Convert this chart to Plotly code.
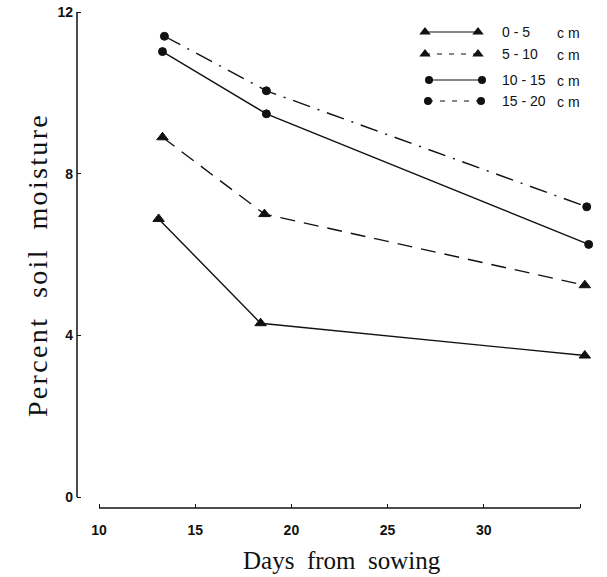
import plotly.graph_objects as go

# ---- data ----
series_names = ["0-5", "5-10", "10-15", "15-20"]
x_05 = [13.1, 18.4, 35.25]
y_05 = [6.88, 4.3, 3.5]
x_510 = [13.3, 18.6, 35.25]
y_510 = [8.9, 7.0, 5.24]
x_1015 = [13.3, 18.7, 35.45]
y_1015 = [11.02, 9.48, 6.25]
x_1520 = [13.4, 18.7, 35.35]
y_1520 = [11.4, 10.05, 7.18]

x_ticks = [10, 15, 20, 25, 30, 35]
x_tick_labels = ["10", "15", "20", "25", "30", ""]
y_ticks = [0, 4, 8, 12]
y_tick_labels = ["0", "4", "8", "12"]

# ---- styles ----
BLACK = "#111111"
styles = [
    dict(dash="solid", symbol="triangle-up", size=10),
    dict(dash="15px,9px", symbol="triangle-up", size=10),
    dict(dash="solid", symbol="circle", size=8),
    dict(dash="18px,8px,2px,8px", symbol="circle", size=8),
]
data = [(x_05, y_05), (x_510, y_510), (x_1015, y_1015), (x_1520, y_1520)]

fig = go.Figure()
for (xs, ys), st in zip(data, styles):
    fig.add_trace(go.Scatter(
        x=xs, y=ys, mode="lines+markers", showlegend=False,
        line=dict(color=BLACK, width=1.4, dash=st["dash"]),
        marker=dict(symbol=st["symbol"], size=st["size"], color=BLACK,
                    line=dict(color=BLACK, width=1)),
    ))

# ---- custom legend drawn on an overlay axis in pixel-like units ----
L = 77
R = 595
T = 5
B = 508
leg_rows_y = [32, 54, 80, 101]
leg_x0 = [425, 425, 429, 428]
leg_x1 = [478, 478, 482, 481]
leg_dash = ["solid", "5px,7px", "solid", "5px,7px"]
for i, st in enumerate(styles):
    fig.add_trace(go.Scatter(
        x=[leg_x0[i], leg_x1[i]], y=[leg_rows_y[i], leg_rows_y[i]],
        xaxis="x2", yaxis="y2", mode="lines+markers", showlegend=False,
        hoverinfo="skip",
        line=dict(color=BLACK, width=1.2, dash=leg_dash[i]),
        marker=dict(symbol=st["symbol"], size=st["size"], color=BLACK),
    ))

annotations = []
for i, name in enumerate(series_names):
    annotations.append(dict(x=500, y=leg_rows_y[i], xref="x2", yref="y2",
                            text=name.replace("-", " - "), showarrow=False, xanchor="left",
                            yanchor="middle",
                            font=dict(family="Liberation Sans", size=14, color=BLACK)))
    annotations.append(dict(x=555, y=leg_rows_y[i] + 1, xref="x2", yref="y2",
                            text="c m", showarrow=False, xanchor="left",
                            yanchor="middle",
                            font=dict(family="Liberation Sans", size=14, color=BLACK)))

# axis titles
HS = "\u200a"
y_title = HS.join("Percent  soil  moisture")
annotations.append(dict(x=0.512, y=0, xref="paper", yref="paper", yshift=-52,
                        text="Days  from  sowing", showarrow=False,
                        xanchor="center", yanchor="middle",
                        font=dict(family="Liberation Serif", size=25, color=BLACK)))
annotations.append(dict(x=0, y=0.481, xref="paper", yref="paper", xshift=-40,
                        text=y_title, showarrow=False, textangle=-90,
                        xanchor="center", yanchor="middle",
                        font=dict(family="Liberation Serif", size=28, color=BLACK)))

# detached axis lines
shapes = [
    dict(type="line", xref="paper", yref="y", x0=0, x1=0, y0=0, y1=12,
         line=dict(color=BLACK, width=1.5)),
    dict(type="line", xref="x", yref="paper", x0=10, x1=35, y0=0, y1=0,
         line=dict(color=BLACK, width=1.5)),
]

px_per_x = (580 - 99) / 25.0
px_per_y = (497 - 12) / 12.0
x_min = 10 - (99 - L) / px_per_x
x_max = 35 + (R - 580) / px_per_x
y_min = 0 - (B - 497) / px_per_y
y_max = 12 + (12 - T) / px_per_y

fig.update_layout(
    width=607, height=577,
    margin=dict(l=L, r=607 - R, t=T, b=577 - B),
    paper_bgcolor="white", plot_bgcolor="white",
    showlegend=False,
    xaxis=dict(range=[x_min, x_max], tickvals=x_ticks, ticktext=x_tick_labels,
               ticks="inside", ticklen=4, tickcolor=BLACK, tickwidth=1.2,
               showgrid=False, zeroline=False, showline=False, automargin=False,
               ticklabelstandoff=12,
               tickfont=dict(family="Liberation Sans", size=14, color=BLACK, weight="bold")),
    yaxis=dict(range=[y_min, y_max], tickvals=y_ticks, ticktext=y_tick_labels,
               ticks="inside", ticklen=4, tickcolor=BLACK, tickwidth=1.2,
               showgrid=False, zeroline=False, showline=False, automargin=False,
               ticklabelstandoff=3,
               tickfont=dict(family="Liberation Sans", size=14, color=BLACK, weight="bold")),
    xaxis2=dict(range=[L, R], overlaying="x", visible=False, domain=[0, 1], anchor="y2"),
    yaxis2=dict(range=[B, T], overlaying="y", visible=False, domain=[0, 1], anchor="x2"),
    annotations=annotations,
    shapes=shapes,
)

fig.write_html("out.html", config={"displayModeBar": False},
               post_script="document.body.style.margin='0px';")
